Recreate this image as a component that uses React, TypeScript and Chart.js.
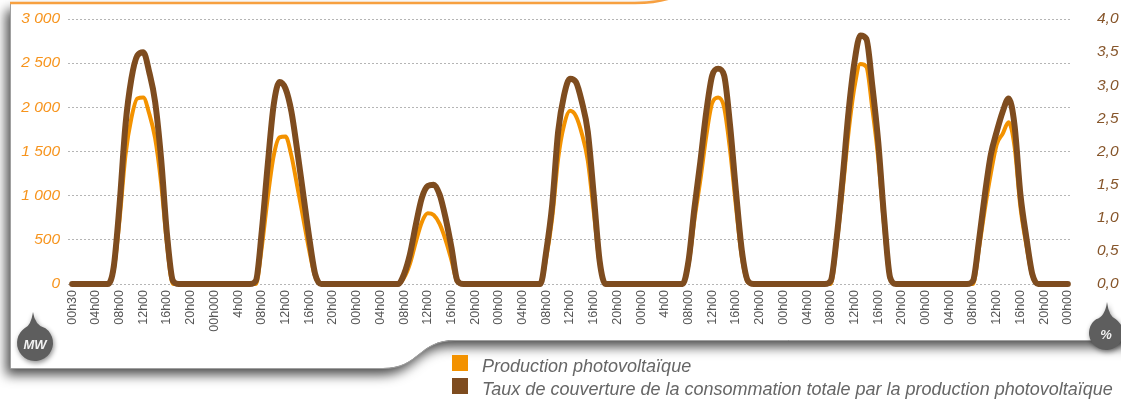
import { useEffect, useRef } from "react";
import { Chart, registerables } from "chart.js";

Chart.register(...registerables);

const W = 1121;
const H = 399;

// Tick labels of the time axis, one every 4 hours over the week
const timeLabels = [
  "00h30", "04h00", "08h00", "12h00", "16h00", "20h00",
  "00h000", "4h00", "08h00", "12h00", "16h00", "20h00",
  "00h00", "04h00", "08h00", "12h00", "16h00", "20h00",
  "00h00", "04h00", "08h00", "12h00", "16h00", "20h00",
  "00h00", "4h00", "08h00", "12h00", "16h00", "20h00",
  "00h00", "04h00", "08h00", "12h00", "16h00", "20h00",
  "00h00", "04h00", "08h00", "12h00", "16h00", "20h00",
  "00h00",
];

// Hourly photovoltaic output (MW), one row per day from 00h to 23h
const productionMW = [
  0, 0, 0, 0, 0, 0, 0, 150, 730, 1460, 1880, 2100, 2110, 1930, 1650, 1150, 450, 0, 0, 0, 0, 0, 0, 0,
  0, 0, 0, 0, 0, 0, 0, 0, 420, 980, 1450, 1660, 1670, 1450, 1100, 740, 380, 80, 0, 0, 0, 0, 0, 0,
  0, 0, 0, 0, 0, 0, 0, 0, 70, 230, 480, 700, 800, 780, 680, 500, 270, 20, 0, 0, 0, 0, 0, 0,
  0, 0, 0, 0, 0, 0, 0, 0, 300, 750, 1420, 1800, 1960, 1900, 1700, 1400, 820, 230, 0, 0, 0, 0, 0, 0,
  0, 0, 0, 0, 0, 0, 0, 0, 220, 730, 1180, 1680, 2050, 2110, 2000, 1520, 880, 300, 20, 0, 0, 0, 0, 0,
  0, 0, 0, 0, 0, 0, 0, 0, 0, 460, 1060, 1720, 2230, 2490, 2460, 1990, 1430, 660, 60, 0, 0, 0, 0, 0,
  0, 0, 0, 0, 0, 0, 0, 0, 0, 400, 850, 1250, 1580, 1700, 1830, 1560, 870, 440, 90, 0, 0, 0, 0, 0,
  0,
];

// Hourly share of total consumption covered by photovoltaics (%), same layout
const coverageRate = [
  0, 0, 0, 0, 0, 0, 0, 0.25, 1.2, 2.4, 3.1, 3.45, 3.5, 3.2, 2.75, 1.9, 0.75, 0.05, 0, 0, 0, 0, 0, 0,
  0, 0, 0, 0, 0, 0, 0, 0.05, 0.8, 1.8, 2.7, 3.05, 2.95, 2.6, 2.0, 1.35, 0.7, 0.15, 0, 0, 0, 0, 0, 0,
  0, 0, 0, 0, 0, 0, 0, 0, 0.15, 0.45, 0.9, 1.3, 1.48, 1.5, 1.35, 1.0, 0.55, 0.05, 0, 0, 0, 0, 0, 0,
  0, 0, 0, 0, 0, 0, 0, 0, 0.5, 1.2, 2.3, 2.85, 3.1, 3.05, 2.75, 2.3, 1.35, 0.35, 0, 0, 0, 0, 0, 0,
  0, 0, 0, 0, 0, 0, 0, 0, 0.35, 1.15, 1.85, 2.6, 3.15, 3.25, 3.15, 2.4, 1.4, 0.5, 0.05, 0, 0, 0, 0, 0,
  0, 0, 0, 0, 0, 0, 0, 0, 0.05, 0.7, 1.6, 2.6, 3.35, 3.75, 3.7, 3.0, 2.15, 1.0, 0.1, 0, 0, 0, 0, 0,
  0, 0, 0, 0, 0, 0, 0, 0, 0.05, 0.65, 1.35, 1.95, 2.3, 2.6, 2.8, 2.4, 1.35, 0.7, 0.15, 0, 0, 0, 0, 0,
  0,
];

const seriesNames = [
  "Production photovoltaïque",
  "Taux de couverture de la consommation totale par la production photovoltaïque",
];

const ORANGE = "#f39200";
const BROWN = "#7e4c1f";
const GREY_TEXT = "#666666";

// Grey drop-shaped badge used for the axis units
function drawDroplet(ctx: CanvasRenderingContext2D, cx: number, cy: number, r: number, tipX: number, tipY: number, text: string) {
  ctx.save();
  const spread = 0.62;
  const a1 = -Math.PI / 2 + spread;
  const a2 = -Math.PI / 2 - spread;
  ctx.beginPath();
  ctx.moveTo(tipX, tipY);
  ctx.quadraticCurveTo(tipX + 2, cy - r * 0.95, cx + r * Math.cos(a1), cy + r * Math.sin(a1));
  ctx.arc(cx, cy, r, a1, a2 + Math.PI * 2);
  ctx.quadraticCurveTo(tipX - 2, cy - r * 0.95, tipX, tipY);
  ctx.closePath();
  ctx.shadowColor = "rgba(0,0,0,0.45)";
  ctx.shadowBlur = 5;
  ctx.shadowOffsetX = 1;
  ctx.shadowOffsetY = 2;
  ctx.fillStyle = "#5e5e5e";
  ctx.fill();
  ctx.restore();
  ctx.save();
  ctx.fillStyle = "#f2f2f2";
  ctx.font = "italic bold 13px 'Liberation Sans', Arial, sans-serif";
  ctx.textAlign = "center";
  ctx.textBaseline = "middle";
  ctx.fillText(text, cx, cy + 2);
  ctx.restore();
}

const framePlugin = {
  id: "frame",
  beforeDraw(chart: Chart) {
    const ctx = chart.ctx;
    ctx.save();
    ctx.fillStyle = "#ffffff";
    ctx.fillRect(0, 0, W, H);

    const card = new Path2D();
    card.moveTo(10, 3);
    card.lineTo(635, 3);
    card.quadraticCurveTo(660, 3, 676, -4);
    card.lineTo(W + 30, -4);
    card.lineTo(W + 30, 340);
    card.lineTo(455, 340);
    card.bezierCurveTo(418, 340, 420, 368, 383, 368);
    card.lineTo(10, 368);
    card.closePath();
    ctx.shadowColor = "rgba(0,0,0,0.7)";
    ctx.shadowBlur = 12;
    ctx.shadowOffsetX = -4;
    ctx.shadowOffsetY = 7;
    ctx.fillStyle = "#ffffff";
    ctx.fill(card);
    ctx.restore();

    ctx.save();
    const edge = new Path2D();
    edge.moveTo(10.5, 3);
    edge.lineTo(10.5, 368.5);
    edge.lineTo(383, 368.5);
    edge.bezierCurveTo(420, 368.5, 418, 340.5, 455, 340.5);
    edge.lineTo(W + 30, 340.5);
    ctx.strokeStyle = "#a0a0a0";
    ctx.lineWidth = 1;
    ctx.stroke(edge);

    const top = new Path2D();
    top.moveTo(10, 3);
    top.lineTo(635, 3);
    top.quadraticCurveTo(660, 3, 676, -4);
    ctx.strokeStyle = "#f7a040";
    ctx.lineWidth = 2.5;
    ctx.stroke(top);
    ctx.restore();
  },
  afterDraw(chart: Chart) {
    const ctx = chart.ctx;
    drawDroplet(ctx, 35, 343, 18, 33, 312, "MW");
    drawDroplet(ctx, 1106, 333, 17, 1107, 302, "%");

    // Legend, in dataset order
    const rows = [
      { y: 355, base: 372 },
      { y: 378, base: 395 },
    ];
    chart.data.datasets.forEach((ds: any, i: number) => {
      const row = rows[i];
      if (!row) return;
      ctx.save();
      ctx.fillStyle = ds.borderColor as string;
      ctx.fillRect(452, row.y, 16, 16);
      ctx.fillStyle = GREY_TEXT;
      ctx.font = "italic 18px 'Liberation Sans', Arial, sans-serif";
      ctx.textBaseline = "alphabetic";
      ctx.textAlign = "left";
      ctx.fillText(ds.label as string, 482, row.base);
      ctx.restore();
    });
  },
};

// Vertical axes keep a fixed width and add no extra padding above the plot
function fixAxisWidth(width: number) {
  return (scale: any) => {
    scale.width = width;
    scale.paddingTop = 0;
    scale.paddingBottom = 0;
  };
}

export default function App() {
  const canvasRef = useRef<HTMLCanvasElement | null>(null);

  useEffect(() => {
    const canvas = canvasRef.current;
    if (!canvas) return;

    const chart = new Chart(canvas, {
      type: "line",
      data: {
        datasets: [
          {
            label: seriesNames[0],
            data: productionMW.map((v, i) => ({ x: i, y: v })),
            yAxisID: "yMW",
            borderColor: ORANGE,
            backgroundColor: ORANGE,
            borderWidth: 4,
            pointRadius: 0,
            cubicInterpolationMode: "monotone",
            borderJoinStyle: "round",
            borderCapStyle: "round",
            clip: false,
            order: 1,
          },
          {
            label: seriesNames[1],
            data: coverageRate.map((v, i) => ({ x: i, y: v })),
            yAxisID: "yPct",
            borderColor: BROWN,
            backgroundColor: BROWN,
            borderWidth: 6,
            pointRadius: 0,
            cubicInterpolationMode: "monotone",
            borderJoinStyle: "round",
            borderCapStyle: "round",
            clip: false,
            order: 0,
          },
        ],
      },
      options: {
        responsive: false,
        animation: false,
        devicePixelRatio: 1,
        layout: { padding: { top: 19, left: 0, right: 0, bottom: 0 } },
        plugins: {
          legend: { display: false },
          tooltip: { enabled: false },
        },
        scales: {
          x: {
            type: "linear",
            min: -0.7,
            max: 168.7,
            position: "bottom",
            afterBuildTicks: (scale: any) => {
              scale.ticks = timeLabels.map((_, i) => ({ value: i * 4 }));
            },
            afterFit: (scale: any) => {
              scale.height = 115;
            },
            grid: { display: false, drawTicks: false },
            border: { display: false },
            ticks: {
              autoSkip: false,
              minRotation: 90,
              maxRotation: 90,
              padding: 6,
              color: "#555555",
              font: { family: "'Liberation Sans', Arial, sans-serif", size: 12.5 },
              callback: (_v: any, index: number) => timeLabels[index],
            },
          },
          yMW: {
            type: "linear",
            position: "left",
            min: 0,
            max: 3000,
            afterFit: fixAxisWidth(68),
            grid: { color: "#b5b5b5", lineWidth: 1, drawTicks: false },
            border: { display: false, dash: [2, 2] },
            ticks: {
              stepSize: 500,
              padding: 8,
              color: "#f7941d",
              font: { family: "'Liberation Sans', Arial, sans-serif", size: 15.5, style: "italic" },
              callback: (v: any) => String(v).replace(/\B(?=(\d{3})+(?!\d))/g, " "),
            },
          },
          yPct: {
            type: "linear",
            position: "right",
            min: 0,
            max: 4,
            afterFit: fixAxisWidth(49),
            grid: { display: false, drawTicks: false },
            border: { display: false },
            ticks: {
              stepSize: 0.5,
              padding: 25,
              color: "#86552a",
              font: { family: "'Liberation Sans', Arial, sans-serif", size: 15.5, style: "italic" },
              callback: (v: any) => Number(v).toFixed(1).replace(".", ","),
            },
          },
        },
      },
      plugins: [framePlugin],
    });

    return () => chart.destroy();
  }, []);

  return (
    <div style={{ position: "absolute", left: 0, top: 0, width: W, height: H, background: "#fff" }}>
      <canvas ref={canvasRef} width={W} height={H} style={{ display: "block", width: W, height: H }} />
    </div>
  );
}
